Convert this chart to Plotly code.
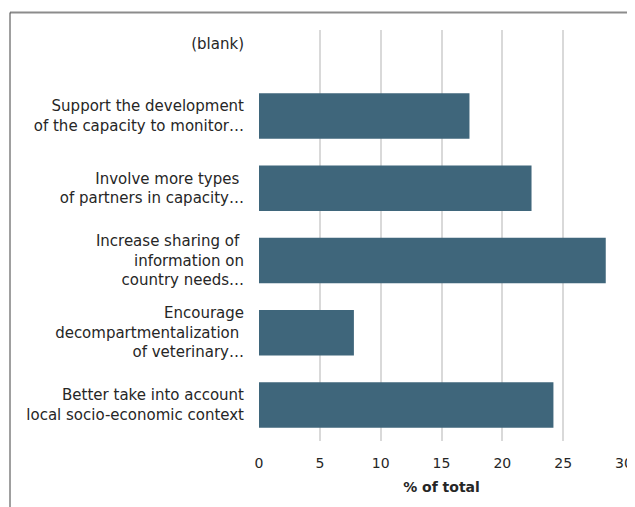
import plotly.graph_objects as go

categories = [
    "Better take into account<br>local socio-economic context",
    "Encourage<br>decompartmentalization\u00a0<br>of veterinary…",
    "Increase sharing of\u00a0<br>information on<br>country needs…",
    "Involve more types\u00a0<br>of partners in capacity…",
    "Support the development<br>of the capacity to monitor…",
    "(blank)",
]
values = [24.2, 7.8, 28.5, 22.4, 17.3, None]
x_ticks = [0, 5, 10, 15, 20, 25, 30]

BAR = "#3F667B"
TXT = "#262626"
FONT = "DejaVu Sans"

# the page body adds an 8px offset; the figure is sized to fit the window
W, H = 627, 499
L, R, T, B = 251, 11, 22, 66
PW = W - L - R
PH = H - T - B

fig = go.Figure(
    go.Bar(
        x=values,
        y=list(range(len(categories))),
        orientation="h",
        marker=dict(color=BAR, line=dict(width=0)),
        width=0.63,
    )
)

fig.update_layout(
    width=W,
    height=H,
    margin=dict(l=L, r=R, t=T, b=B, autoexpand=False),
    paper_bgcolor="white",
    plot_bgcolor="white",
    font=dict(family=FONT, size=15, color=TXT),
    showlegend=False,
    xaxis=dict(
        range=[0, 30],
        tickvals=x_ticks,
        ticktext=[str(v) for v in x_ticks],
        showgrid=True,
        gridcolor="#D9D9D9",
        gridwidth=1.5,
        zeroline=False,
        showline=False,
        ticks="",
        ticklen=0,
        ticklabelstandoff=12,
        automargin=False,
        tickfont=dict(size=14, color=TXT),
        title=dict(text="<b>% of total</b>", font=dict(size=14, color=TXT), standoff=12),
        fixedrange=True,
    ),
    yaxis=dict(
        range=[-0.5, 5.19],
        tickvals=list(range(len(categories))),
        ticktext=categories,
        showgrid=False,
        zeroline=False,
        showline=False,
        ticks="",
        ticklabelstandoff=14,
        automargin=False,
        tickfont=dict(size=15, color=TXT),
        fixedrange=True,
    ),
)

# chart frame (top and left edges visible in the reference)
fx = (2 - L) / PW
fy = 1 + (T - 4.5) / PH
fig.add_shape(type="line", xref="paper", yref="paper",
              x0=fx, x1=1.1, y0=fy, y1=fy,
              line=dict(color="#8C8C8C", width=2))
fig.add_shape(type="line", xref="paper", yref="paper",
              x0=fx, x1=fx, y0=fy, y1=-0.3,
              line=dict(color="#404040", width=1))

fig.write_html("out.html")
